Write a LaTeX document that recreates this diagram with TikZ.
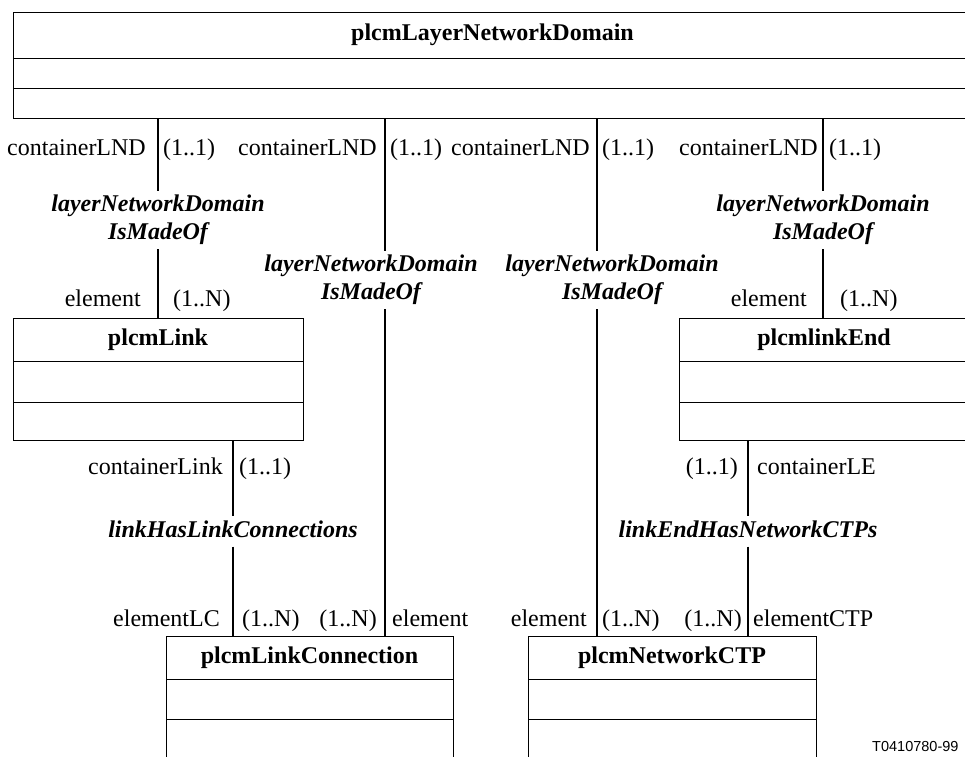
\documentclass[tikz,border=0pt]{standalone}
\usepackage{fontspec}
\setmainfont{Liberation Serif}
\newfontfamily\figidfont{Liberation Sans}
\usetikzlibrary{positioning}
\usetikzlibrary{calc}

\tikzset{
  classtitle/.style={draw, line width=1pt, minimum width=290pt, minimum height=43pt, inner sep=0pt, outer sep=0pt, font=\bfseries},
  classpart/.style={draw, line width=1pt, minimum width=290pt, inner sep=0pt, outer sep=0pt},
  assoc/.style={font=\bfseries\itshape, align=center, inner xsep=3pt, inner ysep=4pt, text depth=5pt},
  role/.style={inner sep=0pt},
  conn/.style={line width=2pt}
}

\begin{document}
\fontsize{24}{28}\selectfont
\begin{tikzpicture}[x=1pt,y=-1pt]
  \useasboundingbox (0,0) rectangle (965,756);
  % classes
  \node[classtitle, minimum width=959pt, minimum height=45.5pt] (lnd) at (492.5,35.25) {plcmLayerNetworkDomain};
  \node[classpart, minimum width=959pt, minimum height=30pt, below=0pt of lnd] (lnd-a) {};
  \node[classpart, minimum width=959pt, minimum height=30.5pt, below=0pt of lnd-a] (lnd-o) {};

  \node[classtitle] (link) at (158,339.5) {plcmLink};
  \node[classpart, minimum height=41pt, below=0pt of link] (link-a) {};
  \node[classpart, minimum height=38pt, below=0pt of link-a] (link-o) {};

  \node[classtitle] (lend) at (824,339.5) {plcmlinkEnd};
  \node[classpart, minimum height=41pt, below=0pt of lend] (lend-a) {};
  \node[classpart, minimum height=38pt, below=0pt of lend-a] (lend-o) {};

  \node[classtitle, minimum width=287pt] (lconn) at (309.5,657.5) {plcmLinkConnection};
  \node[classpart, minimum width=287pt, minimum height=40pt, below=0pt of lconn] (lconn-a) {};
  \node[classpart, minimum width=287pt, minimum height=40pt, below=0pt of lconn-a] (lconn-o) {};

  \node[classtitle, minimum width=288pt] (nctp) at (672,657.5) {plcmNetworkCTP};
  \node[classpart, minimum width=288pt, minimum height=40pt, below=0pt of nctp] (nctp-a) {};
  \node[classpart, minimum width=288pt, minimum height=40pt, below=0pt of nctp-a] (nctp-o) {};

  % associations
  \node[assoc] (madeof1) at (158,220) {layerNetworkDomain\\IsMadeOf};
  \node[assoc] (madeof2) at (371,280) {layerNetworkDomain\\IsMadeOf};
  \node[assoc] (madeof3) at (612,280) {layerNetworkDomain\\IsMadeOf};
  \node[assoc] (madeof4) at (823,220) {layerNetworkDomain\\IsMadeOf};
  \node[assoc] (haslc) at (233,531.5) {linkHasLinkConnections};
  \node[assoc] (hasctp) at (748,531.5) {linkEndHasNetworkCTPs};

  \coordinate (top2) at (lnd-o.south -| 385,0);
  \coordinate (top3) at (lnd-o.south -| 597,0);

  \draw[conn] (lnd-o.south -| madeof1) -- (madeof1) -- (link.north -| madeof1);
  \draw[conn] (top2) -- (top2 |- madeof2.north) (top2 |- madeof2.south) -- (top2 |- lconn.north);
  \draw[conn] (top3) -- (top3 |- madeof3.north) (top3 |- madeof3.south) -- (top3 |- nctp.north);
  \draw[conn] (lnd-o.south -| madeof4) -- (madeof4) -- (lend.north -| madeof4);
  \draw[conn] (link-o.south -| haslc) -- (haslc) -- (lconn.north -| haslc);
  \draw[conn] (lend-o.south -| hasctp) -- (hasctp) -- (nctp.north -| hasctp);

  % roles
  \node[role, anchor=base east] (r1a) at (146,155) {containerLND};
  \node[role, anchor=base west] (r1b) at (163,155) {(1..1)};
  \node[role, anchor=base east] (r2a) at (377,155) {containerLND};
  \node[role, anchor=base west] (r2b) at (390,155) {(1..1)};
  \node[role, anchor=base east] (r3a) at (590,155) {containerLND};
  \node[role, anchor=base west] (r3b) at (602,155) {(1..1)};
  \node[role, anchor=base east] (r4a) at (818,155) {containerLND};
  \node[role, anchor=base west] (r4b) at (829,155) {(1..1)};

  \node[role, anchor=base east] (e1a) at (141,306) {element};
  \node[role, anchor=base west] (e1b) at (173,306) {(1..N)};
  \node[role, anchor=base east] (e4a) at (807,306) {element};
  \node[role, anchor=base west] (e4b) at (840,306) {(1..N)};

  \node[role, anchor=base east] (cla) at (223,474) {containerLink};
  \node[role, anchor=base west] (clb) at (239,474) {(1..1)};
  \node[role, anchor=base east] (clea) at (738,474) {(1..1)};
  \node[role, anchor=base west] (cleb) at (757,474) {containerLE};

  \node[role, anchor=base east] (b1a) at (220,626) {elementLC};
  \node[role, anchor=base west] (b1b) at (242,626) {(1..N)};
  \node[role, anchor=base east] (b2a) at (377,626) {(1..N)};
  \node[role, anchor=base west] (b2b) at (392,626) {element};
  \node[role, anchor=base east] (b3a) at (587,626) {element};
  \node[role, anchor=base west] (b3b) at (602,626) {(1..N)};
  \node[role, anchor=base east] (b4a) at (742,626) {(1..N)};
  \node[role, anchor=base west] (b4b) at (753,626) {elementCTP};

  \node[role, anchor=base west, font=\figidfont\fontsize{14.5}{17}\selectfont] (figid) at (872,751) {T0410780-99};
\end{tikzpicture}
\end{document}
